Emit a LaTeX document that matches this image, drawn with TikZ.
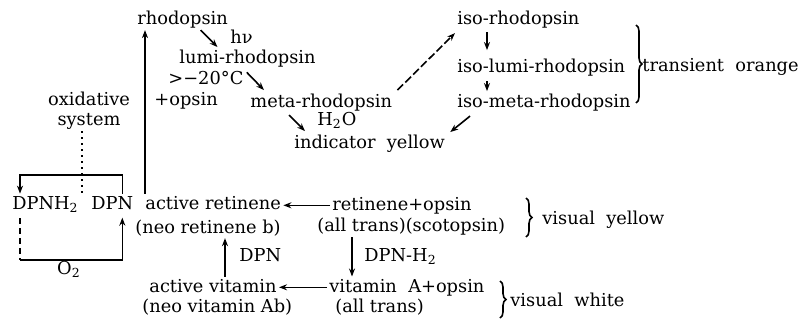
\documentclass[tikz,border=0pt]{standalone}
\usepackage{fontspec}
\setmainfont{DejaVu Serif}
\usetikzlibrary{arrows.meta, calc, decorations.pathreplacing}

\begin{document}
\begin{tikzpicture}[x=0.5pt, y=-0.5pt, font=\fontsize{8.9}{10.7}\selectfont,
  lbl/.style={anchor=base west, inner sep=1pt},
  mid/.style={anchor=base, inner sep=1pt},
  arr/.style={line width=0.8pt, -{Stealth[length=4pt,width=3pt]}},
  brc/.style={line width=0.8pt, decorate, decoration={brace, amplitude=3pt}}]
  \useasboundingbox (0,0) rectangle (804,322);

  % bleaching of rhodopsin
  \node[lbl] (rho) at (135,24) {rhodopsin};
  \node[lbl] (hnu) at (228,43) {hν};
  \node[lbl] (lumi) at (177,63) {lumi-rhodopsin};
  \node[lbl] (temp) at (166,84) {>−20°C};
  \node[lbl] (plusop) at (152,105) {+opsin};
  \node[lbl] (meta) at (248,107) {meta-rhodopsin};
  \node[lbl] (water) at (315,125) {H\textsubscript{2}O};
  \node[lbl] (indic) at (292,148) {indicator\ \ yellow};
  \draw[arr] ($(rho.south)+(18,0)$) -- ($(lumi.north)+(-30,0)$);
  \draw[arr] ($(temp.north east)+(1,4)$) -- ($(meta.north west)+(16,-1)$);
  \draw[arr] ($(meta.south west)+(41,2)$) -- ($(indic.north west)+(13,-1)$);

  % iso branch
  \node[lbl] (isorho) at (455,24) {iso-rhodopsin};
  \node[lbl] (isolumi) at (455,72) {iso-lumi-rhodopsin};
  \node[lbl] (isometa) at (455,107) {iso-meta-rhodopsin};
  \node[lbl] (orange) at (640,71) {transient\ \ orange};
  \draw[arr, dash pattern=on 4pt off 1.5pt] ($(meta.north east)+(3,-1)$) -- ($(isorho.south west)+(0,3)$);
  \draw[arr] ($(isorho.south west)+(32,2)$) -- ($(isolumi.north west)+(32,-6)$);
  \draw[arr] ($(isolumi.south west)+(32,3)$) -- ($(isometa.north west)+(32,0)$);
  \draw[arr] ($(isometa.south west)+(15,3)$) -- ($(indic.north east)+(3,0)$);
  \draw[brc] (636,25) -- (636,103);

  % oxidative system
  \node[mid] (oxid) at (89,105) {oxidative};
  \node[mid] (syst) at (89,125) {system};

  % retinene and vitamin A
  \node[lbl] (dpnh) at (10,209) {DPNH\textsubscript{2}};
  \node[lbl] (dpn) at (89,209) {DPN};
  \node[lbl] (actret) at (143,209) {active retinene};
  \node[lbl] (neoret) at (133,233) {(neo retinene b)};
  \node[lbl] (retops) at (330,210) {retinene+opsin};
  \node[lbl] (trans1) at (315,231) {(all trans)(scotopsin)};
  \node[lbl] (yellow) at (540,224) {visual\ \ yellow};
  \node[lbl] (dpnlbl) at (237,261) {DPN};
  \node[lbl] (dpnhlbl) at (362,261) {DPN-H\textsubscript{2}};
  \node[lbl] (actvit) at (147,292) {active vitamin};
  \node[lbl] (neovit) at (140,312) {(neo vitamin Ab)};
  \node[lbl] (vitops) at (327,292) {vitamin\ \ A+opsin};
  \node[lbl] (trans2) at (333,312) {(all trans)};
  \node[lbl] (white) at (508,306) {visual\ \ white};
  \node[mid] (otwo) at (69,274) {O\textsubscript{2}};
  \draw[brc] (526,198) -- (526,237);
  \draw[brc] (500,281) -- (500,318);

  \draw[arr] ($(actret.north west)+(2,0)$) -- ($(rho.south west)+(10,0)$);
  \draw[arr] (retops.west) -- (retops.west -| actret.east);
  \draw[arr] (vitops.west) -- (vitops.west -| actvit.east);
  \coordinate (u1) at ($(actvit.north west)+(78,0)$);
  \draw[arr] (u1) -- (u1 |- neoret.south);
  \coordinate (d1) at ($(trans1.south west)+(37,0)$);
  \draw[arr] (d1) -- (d1 |- vitops.north);

  % DPN cycle
  \coordinate (topbar) at (0,175);
  \coordinate (botbar) at (0,260);
  \coordinate (t1) at ($(dpn.north)+(10,0)$);
  \coordinate (t2) at ($(dpnh.north west)+(10,0)$);
  \coordinate (b1) at ($(dpnh.south west)+(10,4)$);
  \coordinate (b2) at ($(dpn.south)+(10,6)$);
  \coordinate (s1) at ($(syst.south)+(-7,0)$);
  \draw[arr] (t1) -- (t1 |- topbar) -- (t2 |- topbar) -- (t2);
  \draw[dotted, line width=1pt] (s1) -- (s1 |- dpnh.north);
  \draw[line width=0.8pt, densely dashed] (b1) -- (b1 |- botbar);
  \draw[arr] (b1 |- botbar) -- (b2 |- botbar) -- (b2);
\end{tikzpicture}
\end{document}
